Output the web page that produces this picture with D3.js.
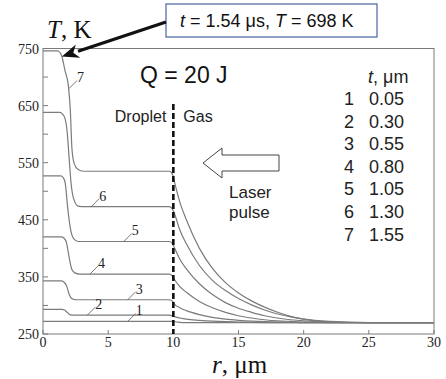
<!DOCTYPE html>
<html>
<head>
<meta charset="utf-8">
<script src="https://cdn.jsdelivr.net/npm/d3@7"></script>
<style>
  body { margin: 0; background: #fff; }
  svg { display: block; }
  .serif { font-family: "Liberation Serif", "Times New Roman", serif; }
  .sans { font-family: "Liberation Sans", Arial, sans-serif; }
</style>
</head>
<body>
<svg id="chart" width="446" height="379"></svg>
<script>
// temperature profiles T(r): [r (um), T (K)]
var curve1 = [[0,272],[9.9,272],[10.3,271],[11,270],[30,270]];
var curve2 = [[0,293],[1.45,293],[1.65,292],[1.85,288],[2.05,284],[2.3,283],[9.7,283],[10.0,281],[10.2,279.5],[10.5,278],[11,276],[12,274],[13,272.5],[14,271.5],[15,271],[16,270.5],[18,270],[30,270]];
var curve3 = [[0,343],[1.4,343],[1.6,341],[1.8,335],[2.0,320],[2.2,312],[2.5,310],[9.7,310],[9.95,307],[10.1,302],[10.5,296],[11,291],[12,284],[13,279],[14,276],[15,274],[16,272.5],[17,271.5],[18,271],[19,270.5],[20,270],[30,270]];
var curve4 = [[0,420],[1.4,420],[1.6,418],[1.8,410],[2.0,385],[2.2,364],[2.45,357],[2.8,355],[9.7,355],[9.95,351],[10.1,345],[10.5,333],[11,323],[12,307],[13,296],[14,288],[15,282],[16,278],[17,275],[18,273],[19,272],[20,271],[22,270],[30,270]];
var curve5 = [[0,527],[1.35,527],[1.55,524],[1.7,515],[1.9,470],[2.1,435],[2.35,417],[2.7,412],[9.7,412],[9.95,408],[10.1,400],[10.5,381],[11,364],[12,338],[13,319],[14,305],[15,295],[16,288],[17,282],[18,278],[19,275],[20,273],[22,271],[25,270],[30,270]];
var curve6 = [[0,638],[1.3,638],[1.5,635],[1.68,628],[1.85,605],[2.0,560],[2.15,515],[2.35,487],[2.7,474],[3.2,473],[9.7,473],[9.95,468],[10.1,460],[10.5,432],[11,408],[12,370],[13,344],[14,326],[15,312],[16,301],[17,292],[18,285],[19,280],[20,276],[22,272],[25,270],[30,270]];
var curve7 = [[0,746],[1.1,746],[1.3,743],[1.45,736],[1.68,712],[1.95,684],[2.1,640],[2.22,575],[2.4,548],[2.7,538],[3.1,535],[9.7,535],[9.95,529],[10.1,515],[10.5,481],[11,450],[12,400],[13,365],[14,340],[15,322],[16,308],[17,297],[18,288],[19,281],[20,276],[22,271],[25,270],[30,270]];

var curves = [curve1, curve2, curve3, curve4, curve5, curve6, curve7];
var curveIds = ["1", "2", "3", "4", "5", "6", "7"];
var times = ["0.05", "0.30", "0.55", "0.80", "1.05", "1.30", "1.55"];

var xTicks = [0, 5, 10, 15, 20, 25, 30];
var yTicks = [250, 300, 350, 400, 450, 500, 550, 600, 650, 700, 750];
var yLabels = [250, 350, 450, 550, 650, 750];

// where each curve number is pinned on its curve [r, T]
var labelPins = [[6.5, 272], [3.4, 283], [6.5, 310], [3.6, 355], [6.2, 412], [3.7, 473], [2.0, 680]];

var svg = d3.select("#chart");

var x = d3.scaleLinear().domain([0, 30]).range([43, 434]);
var y = d3.scaleLinear().domain([250, 750]).range([334, 48.5]);

// frame
svg.append("rect")
    .attr("x", x(0)).attr("y", y(750))
    .attr("width", x(30) - x(0)).attr("height", y(250) - y(750))
    .attr("fill", "none").attr("stroke", "#7a7a7a").attr("stroke-width", 1);

// ticks (inside)
svg.append("g").selectAll("line").data(yTicks).enter().append("line")
    .attr("x1", x(0)).attr("x2", x(0) + 5)
    .attr("y1", d => y(d)).attr("y2", d => y(d))
    .attr("stroke", "#7a7a7a");
svg.append("g").selectAll("line").data(xTicks).enter().append("line")
    .attr("x1", d => x(d)).attr("x2", d => x(d))
    .attr("y1", y(250)).attr("y2", y(250) - 4)
    .attr("stroke", "#7a7a7a");

svg.append("g").selectAll("text").data(yLabels).enter().append("text")
    .attr("class", "serif")
    .attr("x", 39).attr("y", d => y(d) + 5)
    .attr("text-anchor", "end").attr("font-size", 14).attr("fill", "#222")
    .text(d => d);
svg.append("g").selectAll("text").data(xTicks).enter().append("text")
    .attr("class", "serif")
    .attr("x", d => x(d)).attr("y", 347)
    .attr("text-anchor", "middle").attr("font-size", 14).attr("fill", "#222")
    .text(d => d);

// axis titles
var tT = svg.append("text").attr("class", "serif").attr("x", 47).attr("y", 38)
    .attr("font-size", 25).attr("fill", "#111");
tT.append("tspan").attr("font-style", "italic").text("T");
tT.append("tspan").text(", K");

var tr = svg.append("text").attr("class", "serif").attr("x", 212).attr("y", 373)
    .attr("font-size", 25).attr("fill", "#111");
tr.append("tspan").attr("font-style", "italic").text("r");
tr.append("tspan").text(", \u03bcm");

// profiles
var line = d3.line()
    .x(d => x(d[0]))
    .y(d => y(d[1]))
    .curve(d3.curveMonotoneX);

svg.append("g").selectAll("path").data(curves).enter().append("path")
    .attr("d", line)
    .attr("fill", "none")
    .attr("stroke", "#7b7b7b")
    .attr("stroke-width", 1.2);

// curve number labels with short leaders
var lab = svg.append("g").selectAll("g").data(labelPins).enter().append("g")
    .attr("transform", d => "translate(" + x(d[0]) + "," + y(d[1]) + ")");
lab.append("line")
    .attr("x1", 0).attr("y1", 0).attr("x2", 8).attr("y2", -8)
    .attr("stroke", "#555").attr("stroke-width", 0.8);
lab.append("text")
    .attr("class", "serif")
    .attr("x", 8).attr("y", -6)
    .attr("font-size", 14).attr("fill", "#222")
    .text((d, i) => curveIds[i]);

// droplet boundary
svg.append("line")
    .attr("x1", x(10)).attr("x2", x(10))
    .attr("y1", 104).attr("y2", y(250))
    .attr("stroke", "#111").attr("stroke-width", 2.6)
    .attr("stroke-dasharray", "6,3");

svg.append("text").attr("class", "sans").attr("x", x(10) - 7).attr("y", 122)
    .attr("text-anchor", "end").attr("font-size", 16).attr("fill", "#222").text("Droplet");
svg.append("text").attr("class", "sans").attr("x", x(10) + 10).attr("y", 122)
    .attr("font-size", 16).attr("fill", "#222").text("Gas");

svg.append("text").attr("class", "sans").attr("x", 140).attr("y", 83)
    .attr("font-size", 23).attr("fill", "#111").text("Q = 20 J");

// laser pulse hollow arrow
var ax0 = 203, ax1 = 279, ay = 163;
svg.append("path")
    .attr("d", "M" + ax0 + "," + ay +
        " L" + (ax0 + 19) + "," + (ay - 15) +
        " L" + (ax0 + 19) + "," + (ay - 8) +
        " L" + ax1 + "," + (ay - 8) +
        " L" + ax1 + "," + (ay + 8) +
        " L" + (ax0 + 19) + "," + (ay + 8) +
        " L" + (ax0 + 19) + "," + (ay + 15) + " Z")
    .attr("fill", "#fff").attr("stroke", "#444").attr("stroke-width", 1);
svg.append("text").attr("class", "sans").attr("x", 229).attr("y", 198)
    .attr("font-size", 17).attr("fill", "#222").text("Laser");
svg.append("text").attr("class", "sans").attr("x", 229).attr("y", 218)
    .attr("font-size", 17).attr("fill", "#222").text("pulse");

// legend of times
var lh = svg.append("text").attr("class", "sans").attr("x", 368).attr("y", 83)
    .attr("font-size", 18).attr("fill", "#222");
lh.append("tspan").attr("font-style", "italic").text("t");
lh.append("tspan").text(", \u03bcm");

var rows = svg.append("g").selectAll("g").data(times).enter().append("g")
    .attr("transform", (d, i) => "translate(0," + (105 + i * 22.6) + ")");
rows.append("text").attr("class", "sans").attr("x", 354).attr("text-anchor", "end")
    .attr("font-size", 18).attr("fill", "#222").text((d, i) => curveIds[i]);
rows.append("text").attr("class", "sans").attr("x", 369)
    .attr("font-size", 18).attr("fill", "#222").text(d => d);

// callout box and arrow
svg.append("rect")
    .attr("x", 166).attr("y", 4).attr("width", 211).attr("height", 33)
    .attr("fill", "#fff").attr("stroke", "#4a63a3").attr("stroke-width", 1.2);
var ct = svg.append("text").attr("class", "sans").attr("x", 180).attr("y", 27)
    .attr("font-size", 18).attr("fill", "#111");
ct.append("tspan").attr("font-style", "italic").text("t");
ct.append("tspan").text(" = 1.54 \u03bcs, ");
ct.append("tspan").attr("font-style", "italic").text("T");
ct.append("tspan").text(" = 698 K");

var p0 = [166, 22], tip = [x(1.45), y(736)];
var ang = Math.atan2(tip[1] - p0[1], tip[0] - p0[0]);
var hl = 17, hw = 7;
var bx = tip[0] - hl * Math.cos(ang), by = tip[1] - hl * Math.sin(ang);
svg.append("line")
    .attr("x1", p0[0]).attr("y1", p0[1]).attr("x2", bx).attr("y2", by)
    .attr("stroke", "#111").attr("stroke-width", 3.2);
svg.append("path")
    .attr("d", "M" + tip[0] + "," + tip[1] +
        " L" + (bx + hw * Math.sin(ang)) + "," + (by - hw * Math.cos(ang)) +
        " L" + (bx + 5 * Math.cos(ang)) + "," + (by + 5 * Math.sin(ang)) +
        " L" + (bx - hw * Math.sin(ang)) + "," + (by + hw * Math.cos(ang)) + " Z")
    .attr("fill", "#111");
</script>
</body>
</html>
